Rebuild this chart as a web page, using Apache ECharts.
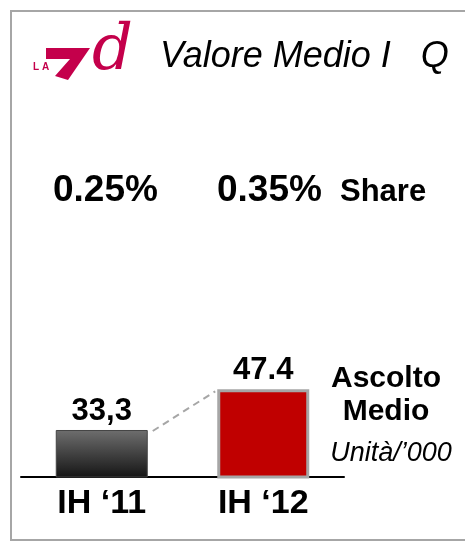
<!DOCTYPE html>
<html>
<head>
<meta charset="utf-8">
<script src="https://cdn.jsdelivr.net/npm/echarts@6/dist/echarts.min.js"></script>
<style>html,body{margin:0;padding:0;background:#fff}#c{width:465px;height:542px}</style>
</head>
<body>
<div id="c"></div>
<script>
// ---- data ----
var categories = ['IH \u201811', 'IH \u201812'];
var values = [33.3, 47.4];
var valueLabels = ['33,3', '47.4'];
var shareLabels = ['0.25%', '0.35%'];
var titleText = 'Valore Medio I   Q';

var FONT = '"Liberation Sans", Arial, sans-serif';
var BAR_W = 92;
var chart = echarts.init(document.getElementById('c'), null, {renderer: 'canvas'});

var option = {
  animation: false,
  backgroundColor: '#fff',
  grid: {left: 21, right: 121, top: 353, bottom: 65},
  xAxis: {
    type: 'category',
    data: categories,
    axisLine: {lineStyle: {color: '#000', width: 2}},
    axisTick: {show: false},
    axisLabel: {color: '#000', fontFamily: FONT, fontWeight: 'bold', fontSize: 34, margin: 10}
  },
  yAxis: {type: 'value', min: 17, max: 60, show: false, splitLine: {show: false}},
  series: [
    {
      type: 'bar',
      barWidth: BAR_W,
      data: values.map(function (v, i) {
        return {
          value: v,
          itemStyle: i === 0 ? {
            color: new echarts.graphic.LinearGradient(0, 0, 0, 1, [
              {offset: 0, color: '#6e6e6e'}, {offset: 1, color: '#151515'}
            ]),
            borderColor: '#444', borderWidth: 1
          } : {color: '#c00000', borderColor: '#a6a6a6', borderWidth: 3}
        };
      }),
      label: {
        show: true, position: 'top', distance: 3,
        color: '#000', fontFamily: FONT, fontWeight: 'bold', fontSize: 31,
        formatter: function (p) { return valueLabels[p.dataIndex]; }
      },
      z: 2
    },
    {
      type: 'custom',
      data: [[0, values[0], 1, values[1]]],
      renderItem: function (params, api) {
        var p1 = api.coord([api.value(0), api.value(1)]);
        var p2 = api.coord([api.value(2), api.value(3)]);
        return {
          type: 'line',
          shape: {x1: p1[0] + BAR_W / 2 + 5, y1: p1[1] + 1, x2: p2[0] - BAR_W / 2 - 2, y2: p2[1] + 2},
          style: {stroke: '#a6a6a6', lineWidth: 2, lineDash: [7, 5]}
        };
      },
      z: 1
    }
  ],
  graphic: [
    {type: 'rect', shape: {x: 11, y: 11, width: 480, height: 529}, style: {fill: 'none', stroke: '#a6a6a6', lineWidth: 2}, silent: true},
    // logo
    {type: 'text', x: 33, y: 62, style: {text: 'L A', fill: '#c4004b', font: 'bold 10px ' + FONT}},
    {type: 'polygon', shape: {points: [[46, 48], [90, 48], [68, 80], [55, 76], [70, 59], [46, 59]]}, style: {fill: '#c4004b'}},
    {type: 'text', x: 92, y: 20, style: {text: 'd', fill: '#c4004b', font: 'italic 64px "DejaVu Serif", serif'}},
    // title
    {type: 'text', x: 160, y: 57, style: {text: titleText, fill: '#000', font: 'italic 36px ' + FONT, textVerticalAlign: 'middle'}},
    // share
    {type: 'text', x: 53, y: 191, style: {text: shareLabels[0], fill: '#000', font: 'bold 37px ' + FONT, textVerticalAlign: 'middle'}},
    {type: 'text', x: 217, y: 191, style: {text: shareLabels[1], fill: '#000', font: 'bold 37px ' + FONT, textVerticalAlign: 'middle'}},
    {type: 'text', x: 340, y: 192, style: {text: 'Share', fill: '#000', font: 'bold 31px ' + FONT, textVerticalAlign: 'middle'}},
    // right-side legend text
    {type: 'text', x: 386, y: 379, style: {text: 'Ascolto', fill: '#000', font: 'bold 30px ' + FONT, textAlign: 'center', textVerticalAlign: 'middle'}},
    {type: 'text', x: 386, y: 412, style: {text: 'Medio', fill: '#000', font: 'bold 30px ' + FONT, textAlign: 'center', textVerticalAlign: 'middle'}},
    {type: 'text', x: 391, y: 453, style: {text: 'Unit\u00e0/\u2019000', fill: '#000', font: 'italic 27px ' + FONT, textAlign: 'center', textVerticalAlign: 'middle'}}
  ]
};
chart.setOption(option);
</script>
</body>
</html>
